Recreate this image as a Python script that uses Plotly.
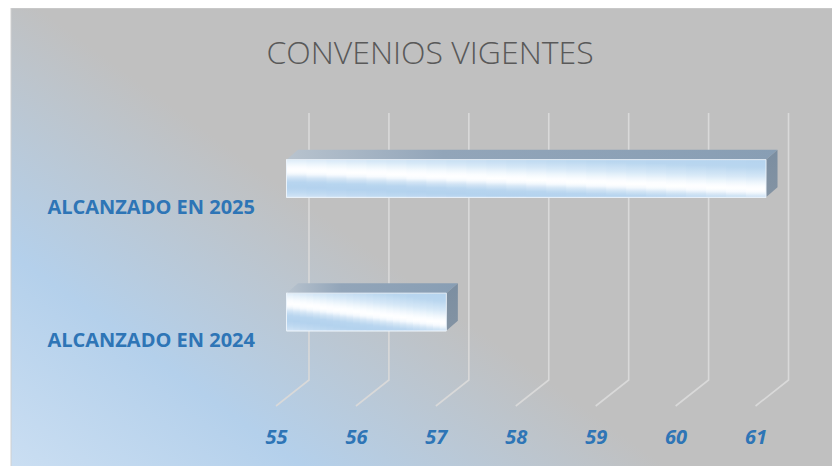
import base64
import plotly.graph_objects as go

# ---------------- data ----------------
CATEGORIES = ["ALCANZADO EN 2024", "ALCANZADO EN 2025"]
VALUES = [57, 61]
TICK_VALUES = [55, 56, 57, 58, 59, 60, 61]
TICK_LABELS = ["55", "56", "57", "58", "59", "60", "61"]
TITLE = "CONVENIOS VIGENTES"
AXIS_MIN = 55

# ---------------- geometry / style ----------------
W, H = 832, 458
BAR_W = 0.2824          # bar thickness in category units
DX, DY = 0.144, 0.075   # 3-D depth offsets of bars
GRID_BACK_DX = 0.2815   # back wall offset of gridlines
GRID_TOP, GRID_BOTTOM = 1.4906, -0.5094
FLOOR_DX, FLOOR_Y = -0.131, -0.7041
X_RANGE = [54.6684, 61.9257]
Y_RANGE = [-0.809, 2.2772]
LABEL_BLUE = "#2e75b6"

# chrome-like sheen profile for the bar fronts (u = depth-from-top minus slope*x)
SHEEN_SLOPE = 0.52
SHEEN_PROFILE = [(-0.6, "#b4d3ee"), (-0.3, "#b9d6ef"), (-0.05, "#d6e8f7"), (0.1, "#eef6fc"),
                 (0.2, "#fbfdff"), (0.28, "#ffffff"), (0.36, "#f6fafe"), (0.46, "#d3e5f5"),
                 (0.58, "#b8d5ef"), (0.72, "#b3d2ee"), (0.86, "#bfd9f1"), (1.0, "#d4e6f6")]
SHEEN_COLS = 24


def _hex(c):
    return tuple(int(c[i:i + 2], 16) for i in (1, 3, 5))


def sheen_color(u):
    pts = SHEEN_PROFILE
    if u <= pts[0][0]:
        return pts[0][1]
    for (u0, c0), (u1, c1) in zip(pts, pts[1:]):
        if u <= u1:
            t = (u - u0) / (u1 - u0)
            a, b = _hex(c0), _hex(c1)
            return "rgb(%d,%d,%d)" % tuple(round(a[i] + (b[i] - a[i]) * t) for i in range(3))
    return pts[-1][1]


pos = list(range(len(CATEGORIES)))

fig = go.Figure()

# gridlines (perspective back wall + floor)
gx, gy = [], []
for t in TICK_VALUES:
    gx += [t + GRID_BACK_DX, t + GRID_BACK_DX, t + FLOOR_DX, None]
    gy += [GRID_TOP, GRID_BOTTOM, FLOOR_Y, None]
fig.add_trace(go.Scatter(x=gx, y=gy, mode="lines", xaxis="x2", yaxis="y2",
                         line=dict(color="#d9d9d9", width=1.6),
                         hoverinfo="skip", showlegend=False))

# front faces of bars
fig.add_trace(go.Bar(y=CATEGORIES, x=[v - AXIS_MIN for v in VALUES], base=AXIS_MIN,
                     orientation="h", width=BAR_W, xaxis="x2", yaxis="y3",
                     marker=dict(color="#c6def3",
                                 line=dict(color="rgba(240,246,252,0.9)", width=1)),
                     showlegend=False, hoverinfo="x+y"))

# 3-D faces and sheen
for p, v in zip(pos, VALUES):
    top = p + BAR_W / 2
    bot = p - BAR_W / 2
    # sheen on the front face: narrow overlapping columns with shifted vertical gradients
    n = SHEEN_COLS
    step = (v - AXIS_MIN) / n
    for j in range(n):
        x0 = AXIS_MIN + step * j
        x1 = min(AXIS_MIN + step * (j + 1.6), v)
        xc = (j + 0.5) / n
        cs = []
        for k in range(21):
            f = k / 20          # 0 = top edge, 1 = bottom edge
            cs.append([1 - f, sheen_color(f - SHEEN_SLOPE * xc)])
        cs.sort(key=lambda e: e[0])
        fig.add_trace(go.Scatter(
            x=[x0, x1, x1, x0, x0], y=[bot, bot, top, top, bot],
            mode="lines", fill="toself", line=dict(width=0), xaxis="x2", yaxis="y4",
            fillgradient=dict(type="vertical", start=bot, stop=top, colorscale=cs),
            hoverinfo="skip", showlegend=False))
    # top face
    fig.add_trace(go.Scatter(
        x=[AXIS_MIN, v, v + DX, AXIS_MIN + DX, AXIS_MIN],
        y=[top, top, top + DY, top + DY, top],
        mode="lines", fill="toself", line=dict(width=0), xaxis="x2", yaxis="y4",
        fillgradient=dict(type="horizontal", start=AXIS_MIN, stop=v + DX,
                          colorscale=[[0, "#b8c3ce"], [0.32, "#92a5b9"], [1, "#889eb4"]]),
        hoverinfo="skip", showlegend=False))
    # side face
    fig.add_trace(go.Scatter(
        x=[v, v, v + DX, v + DX, v],
        y=[bot, top, top + DY, bot + DY, bot],
        mode="lines", fill="toself", line=dict(width=0), xaxis="x2", yaxis="y4",
        fillgradient=dict(type="vertical", start=bot, stop=top + DY,
                          colorscale=[[0, "#8393a3"], [1, "#7b8ea1"]]),
        hoverinfo="skip", showlegend=False))
    # thin light outline of the front face
    fig.add_trace(go.Scatter(
        x=[AXIS_MIN, v, v, AXIS_MIN, AXIS_MIN], y=[bot, bot, top, top, bot],
        mode="lines", line=dict(color="rgba(235,243,251,0.9)", width=1),
        xaxis="x2", yaxis="y4", hoverinfo="skip", showlegend=False))

# background gradient (decorative)
svg = ('<svg xmlns="http://www.w3.org/2000/svg" width="829" height="458" '
       'viewBox="0 0 829 458" preserveAspectRatio="none"><defs>'
       '<linearGradient id="g" gradientUnits="userSpaceOnUse" x1="0" y1="458" x2="506" y2="-235">'
       '<stop offset="0" stop-color="#cadef2"/><stop offset="0.2" stop-color="#b4d0eb"/>'
       '<stop offset="0.45" stop-color="#c0c0c0"/><stop offset="1" stop-color="#c0c0c0"/>'
       '</linearGradient></defs><rect width="829" height="458" fill="url(#g)"/></svg>')
src = "data:image/svg+xml;base64," + base64.b64encode(svg.encode()).decode()

axis_font = dict(family="Open Sans", size=20, color=LABEL_BLUE, weight="bold", style="italic")
cat_font = dict(family="Open Sans", size=20, color=LABEL_BLUE, weight="bold")

fig.update_layout(
    width=W, height=H, margin=dict(l=0, r=0, t=0, b=0),
    paper_bgcolor="white", plot_bgcolor="rgba(0,0,0,0)",
    images=[dict(source=src, xref="paper", yref="paper", x=3 / W, y=1,
                 sizex=829 / W, sizey=1, xanchor="left", yanchor="top",
                 sizing="stretch", layer="below")],
    shapes=[dict(type="rect", xref="paper", yref="paper", x0=3 / W, x1=1.01,
                 y0=-0.01, y1=1.0, line=dict(color="#d0d0d0", width=1), layer="below")],
    title=dict(text=TITLE, x=422 / W, xanchor="center", y=1 - 45 / H, yanchor="middle",
               font=dict(family="Open Sans", size=32, color="#595959", weight=300)),
    xaxis2=dict(domain=[252 / W, 1], range=X_RANGE, anchor="y2",
                tickvals=TICK_VALUES, ticktext=TICK_LABELS, ticks="",
                showgrid=False, zeroline=False, showline=False,
                ticklabelshift=-10, ticklabelstandoff=3, tickfont=axis_font),
    yaxis2=dict(domain=[(H - 412) / H, 1], range=Y_RANGE, anchor="x2",
                showgrid=False, zeroline=False, showline=False, showticklabels=False, ticks=""),
    yaxis3=dict(overlaying="y2", anchor="x2", side="left", type="category",
                categoryorder="array", categoryarray=CATEGORIES, range=Y_RANGE,
                showgrid=False, zeroline=False, showline=False, ticks="",
                ticklabelshift=28, ticklabelstandoff=4, tickfont=cat_font),
    yaxis4=dict(overlaying="y2", anchor="x2", range=Y_RANGE, visible=False),
    showlegend=False,
)

fig.write_html("out.html")
